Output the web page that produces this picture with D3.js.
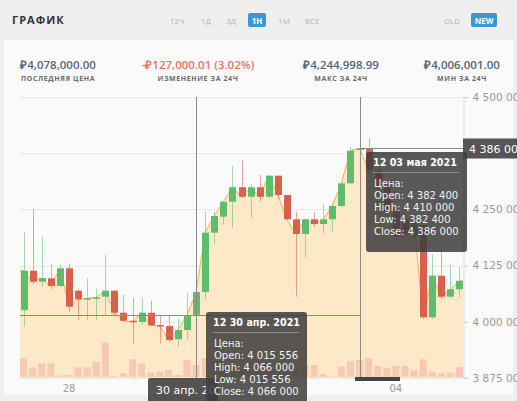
<!DOCTYPE html>
<html>
<head>
<meta charset="utf-8">
<script src="https://cdn.jsdelivr.net/npm/d3@7"></script>
<style>
body { margin: 0; background: #efefef; }
svg { display: block; }
</style>
</head>
<body>
<script>
// свечи 4ч, по порядку
const opens  = [4026000, 4113700, 4089200, 4096700, 4079600, 4119000, 4069200, 4050000, 4051400, 4055800,
                4069200, 4020200, 4002400, 3999500, 4020200, 3992900, 3990600, 3961100, 3981800, 4015556,
                4066000, 4198200, 4233800, 4267100, 4299200, 4278200, 4299200, 4278200, 4325000, 4282000,
                4228000, 4195300, 4228000, 4217500, 4228000, 4257600, 4308000, 4382400, 4385900, 4336000,
                4300000, 4245000, 4228000, 4189000, 4215000, 4010000, 4102600, 4055800, 4072300];
const highs  = [4200400, 4250900, 4189300, 4128500, 4126300, 4130100, 4072900, 4096700, 4074500, 4148600,
                4070000, 4059600, 4052300, 4054500, 4046900, 4012900, 4012900, 4007800, 4064700, 4066000,
                4247100, 4244900, 4267100, 4346500, 4358300, 4306500, 4326500, 4325000, 4325000, 4282000,
                4244900, 4228000, 4244900, 4262000, 4263600, 4308000, 4389500, 4410000, 4408100, 4345000,
                4310000, 4255000, 4240000, 4232000, 4222000, 4150000, 4160000, 4126300, 4122000];
const lows   = [3989100, 4084000, 4077400, 4072900, 4078100, 4022500, 4004000, 4004000, 4004000, 4015100,
                4015100, 4000000, 3952200, 3992900, 3990600, 3952200, 3955700, 3943300, 3959500, 4015556,
                4048500, 4170800, 4215300, 4208000, 4274700, 4230200, 4267100, 4274700, 4272500, 4226400,
                4055800, 4141200, 4211500, 4196800, 4200400, 4256000, 4308000, 4382400, 4337600, 4290000,
                4235000, 4170000, 4190000, 4180000, 4006000, 4006000, 4050000, 4050700, 4054000];
const closes = [4113700, 4089200, 4097400, 4079600, 4119000, 4033600, 4050000, 4052300, 4054500, 4069200,
                4020200, 4002400, 3999500, 4020200, 3992200, 3990600, 3959500, 3981800, 4015100, 4066000,
                4198200, 4235300, 4267100, 4299200, 4278200, 4299200, 4278200, 4325000, 4282000, 4228000,
                4195300, 4228000, 4217500, 4228000, 4257600, 4308000, 4380600, 4386000, 4337600, 4300000,
                4245000, 4190000, 4196000, 4220000, 4010000, 4102600, 4055800, 4072300, 4091000];
const volumes = [18.7, 9.7, 13.7, 13.7, 1.3, 2, 9.7, 9.7, 15.3, 34.3,
                 1, 3.7, 17.7, 13.7, 4.3, 5.3, 7, 2, 17, 12,
                 19, 16, 10, 12, 8, 14, 9, 11, 7, 13,
                 10, 12, 12, 3, 0.5, 10.3, 16, 17, 18.7, 11,
                 9.3, 11, 11, 7, 17.7, 5.3, 3.7, 4.3, 10.3];

const xTickIndex = [5, 41];
const xTickLabels = ["28", "04"];
const yTicks = [3875000, 4000000, 4125000, 4250000, 4375000, 4500000];

const periods = ["12Ч", "1Д", "3Д", "1Н", "1М", "ВСЕ"];
const activePeriod = "1Н";
const statValues = ["₽4,078,000.00", "-₽127,000.01 (3.02%)", "₽4,244,998.99", "₽4,006,001.00"];
const statLabels = ["ПОСЛЕДНЯЯ ЦЕНА", "ИЗМЕНЕНИЕ ЗА 24Ч", "МАКС ЗА 24Ч", "МИН ЗА 24Ч"];

// две подсказки (crosshair)
const hoverIndex = [19, 37];
const hoverTitles = ["12 30 апр. 2021", "12 03 мая 2021"];
const hoverDateBadge = "30 апр. 2021";

const W = 517, H = 401;
const fmt = n => d3.format(",")(n).replace(/,/g, " ");

const svg = d3.select("body").append("svg").attr("width", W).attr("height", H);

// header
svg.append("text").attr("x", 12).attr("y", 24)
    .attr("font-family", "Open Sans").attr("font-weight", "bold").attr("font-size", 11)
    .attr("letter-spacing", 1).attr("fill", "#333").text("ГРАФИК");

const periodX = [177, 206, 231, 257, 284, 312];
periods.forEach(function(p, i) {
    if (p == activePeriod) {
        svg.append("rect").attr("x", periodX[i] - 9).attr("y", 13).attr("width", 18).attr("height", 14)
            .attr("rx", 2).attr("fill", "#3a97d4");
    }
    svg.append("text").attr("x", periodX[i]).attr("y", 23.5).attr("text-anchor", "middle")
        .attr("font-family", "Open Sans").attr("font-size", 8)
        .attr("font-weight", p == activePeriod ? "bold" : "normal")
        .attr("fill", p == activePeriod ? "#fff" : "#b4b4b4").text(p);
});
svg.append("text").attr("x", 452).attr("y", 23.5).attr("text-anchor", "middle")
    .attr("font-family", "Open Sans").attr("font-size", 8).attr("fill", "#b4b4b4").text("OLD");
svg.append("rect").attr("x", 471).attr("y", 13).attr("width", 26).attr("height", 14).attr("rx", 2).attr("fill", "#3a97d4");
svg.append("text").attr("x", 484).attr("y", 23.5).attr("text-anchor", "middle")
    .attr("font-family", "Open Sans").attr("font-size", 8).attr("font-weight", "bold").attr("fill", "#fff").text("NEW");

// card
svg.append("rect").attr("x", 4).attr("y", 40).attr("width", 509).attr("height", 355).attr("fill", "#fafafa");

// stats row
const statX = [58, 198, 341, 462];
statValues.forEach(function(v, i) {
    svg.append("text").attr("x", statX[i]).attr("y", 69).attr("text-anchor", "middle")
        .attr("font-family", "Open Sans").attr("font-size", 11.5).attr("font-weight", 600)
        .attr("fill", i == 1 ? "#e8735f" : "#56657a").text(v);
    svg.append("text").attr("x", statX[i]).attr("y", 81).attr("text-anchor", "middle")
        .attr("font-family", "Open Sans").attr("font-weight", "bold").attr("font-size", 7)
        .attr("letter-spacing", 0.6).attr("fill", "#6b6b6b").text(statLabels[i]);
});

// scales
const x = d3.scaleLinear().domain([-0.4, closes.length - 0.6]).range([20, 463]);
const y = d3.scaleLinear().domain([3875000, 4500000]).range([378, 97]);
const yVol = d3.scaleLinear().domain([0, 40]).range([377, 337]);
const bw = 7;

// grid
svg.append("g").selectAll("line").data(yTicks).enter().append("line")
    .attr("x1", 20).attr("x2", 463)
    .attr("y1", d => Math.round(y(d)) + 0.5).attr("y2", d => Math.round(y(d)) + 0.5)
    .attr("stroke", "#e9e9e9");

// area + close line
const pts = closes.map((c, i) => [x(i), y(c)]);
const areaPts = [[20, y(closes[0])]].concat(pts, [[463, y(closes[closes.length - 1])]]);
svg.append("path").datum(areaPts)
    .attr("d", d3.area().x(d => d[0]).y0(378).y1(d => d[1]))
    .attr("fill", "#fde8c8");

// volume bars
svg.append("g").selectAll("rect").data(volumes).enter().append("rect")
    .attr("x", (d, i) => x(i) - bw / 2).attr("width", bw)
    .attr("y", d => yVol(d)).attr("height", d => 377 - yVol(d))
    .attr("fill", (d, i) => i == volumes.length - 1 ? "#f6bdbd" : "#f3c4ab").attr("opacity", 0.85);

svg.append("path").datum(areaPts)
    .attr("d", d3.line().x(d => d[0]).y(d => d[1]))
    .attr("fill", "none").attr("stroke", "#f4b04a").attr("stroke-width", 1);

// y axis
const yAxis = d3.axisRight(y).tickValues(yTicks).tickSize(5).tickPadding(4).tickFormat(fmt);
const gy = svg.append("g").attr("transform", "translate(463.5,0)").call(yAxis);
gy.select(".domain").attr("stroke", "#dcdcdc");
gy.selectAll(".tick line").attr("stroke", "#cfcfcf");
gy.selectAll("text").attr("fill", "#999").attr("font-family", "DejaVu Sans").attr("font-size", 10.5);

// candles
const candles = svg.append("g").selectAll("g").data(closes).enter().append("g");
const col = i => closes[i] >= opens[i] ? "#5dbd6d" : "#d9604b";
candles.append("line")
    .attr("x1", (d, i) => Math.round(x(i)) + 0.5).attr("x2", (d, i) => Math.round(x(i)) + 0.5)
    .attr("y1", (d, i) => y(highs[i])).attr("y2", (d, i) => y(lows[i]))
    .attr("stroke", (d, i) => col(i)).attr("stroke-opacity", 0.55);
candles.append("rect")
    .attr("x", (d, i) => Math.round(x(i)) - 3).attr("width", bw)
    .attr("y", (d, i) => y(Math.max(opens[i], closes[i])))
    .attr("height", (d, i) => Math.max(1.5, Math.abs(y(opens[i]) - y(closes[i]))))
    .attr("fill", (d, i) => col(i));

// x axis labels
svg.append("g").selectAll("text").data(xTickIndex).enter().append("text")
    .attr("x", d => x(d)).attr("y", 392).attr("text-anchor", "middle")
    .attr("font-family", "DejaVu Sans").attr("font-size", 10).attr("fill", "#999")
    .text((d, i) => xTickLabels[i]);

// crosshairs
const hx0 = Math.round(x(hoverIndex[0])) + 0.5, hx1 = Math.round(x(hoverIndex[1])) + 0.5;
const hy0 = Math.round(y(opens[hoverIndex[0]])) + 0.5, hy1 = Math.round(y(closes[hoverIndex[1]])) + 0.5;
[[hx0, 97, hx0, 378], [hx1, 97, hx1, 378], [20, hy0, hx1, hy0], [hx1, hy1, 463, hy1]].forEach(function(l) {
    svg.append("line").attr("x1", l[0]).attr("y1", l[1]).attr("x2", l[2]).attr("y2", l[3])
        .attr("stroke", "#8a8a8a").attr("stroke-width", 1);
});

// price badge
svg.append("rect").attr("x", 463).attr("y", hy1 - 10).attr("width", 60).attr("height", 20).attr("fill", "#555");
svg.append("text").attr("x", 469).attr("y", hy1 + 4).attr("font-family", "DejaVu Sans")
    .attr("font-size", 11).attr("fill", "#fff").text(fmt(closes[hoverIndex[1]]));

// date badges
svg.append("rect").attr("x", 355).attr("y", 377).attr("width", 45).attr("height", 4).attr("fill", "#444");
svg.append("rect").attr("x", 148).attr("y", 378).attr("width", 70).attr("height", 24).attr("rx", 2)
    .attr("fill", "rgba(60,60,60,0.88)");
svg.append("text").attr("x", 156).attr("y", 394).attr("font-family", "DejaVu Sans")
    .attr("font-size", 11).attr("fill", "#fff").text(hoverDateBadge);

// tooltips
function tooltip(tx, ty, k, title) {
    const g = svg.append("g").attr("transform", "translate(" + tx + "," + ty + ")");
    g.append("rect").attr("width", 101).attr("height", 100).attr("rx", 3).attr("fill", "rgba(62,62,62,0.86)");
    g.append("text").attr("x", 7).attr("y", 14).attr("font-family", "DejaVu Sans").attr("font-weight", "bold")
        .attr("font-size", 9.6).attr("fill", "#fff").text(title);
    g.append("line").attr("x1", 7).attr("x2", 93).attr("y1", 20.5).attr("y2", 20.5).attr("stroke", "#888");
    const rows = ["Цена:", "Open: " + fmt(opens[k]), "High: " + fmt(highs[k]), "Low: " + fmt(lows[k]), "Close: " + fmt(closes[k])];
    g.selectAll(".row").data(rows).enter().append("text")
        .attr("x", 8).attr("y", (d, i) => 35 + i * 12)
        .attr("font-family", "DejaVu Sans").attr("font-size", 10).attr("fill", "#f2f2f2").text(d => d);
}
tooltip(366, 152, hoverIndex[1], hoverTitles[1]);
tooltip(206, 312, hoverIndex[0], hoverTitles[0]);
</script>
</body>
</html>
